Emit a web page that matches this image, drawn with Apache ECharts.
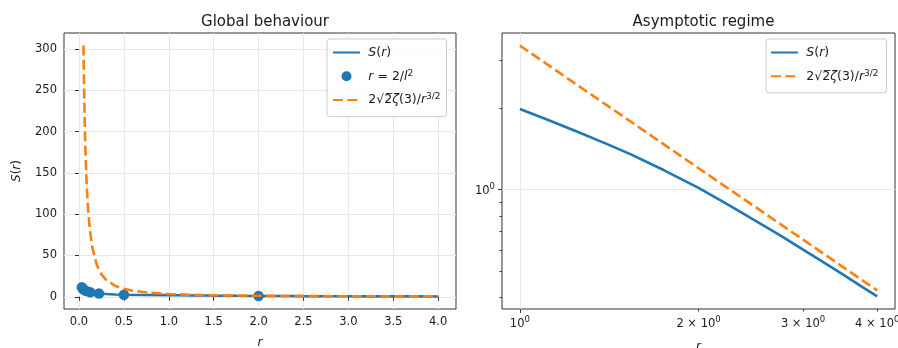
<!DOCTYPE html>
<html>
<head>
<meta charset="utf-8">
<script src="https://cdn.jsdelivr.net/npm/echarts@6/dist/echarts.min.js"></script>
<style>
html,body{margin:0;padding:0;background:#fff;}
#c{width:898px;height:348px;}
</style>
</head>
<body>
<div id="c"></div>
<script>
// S(r) curve
const rS = [0.03125, 0.035, 0.0408, 0.05, 0.0556, 0.07, 0.08, 0.1, 0.125, 0.15, 0.2, 0.222, 0.3, 0.4, 0.5, 0.7, 1, 1.1, 1.25, 1.4, 1.535, 1.75, 2, 2.25, 2.5, 2.75, 3, 3.25, 3.5, 3.75, 4];
const S  = [11.5, 10.8, 10.0, 9.0, 8.5, 7.5, 7.0, 6.2, 5.5, 5.0, 4.24, 4.0, 3.37, 2.85, 2.5, 2.2, 1.985, 1.829, 1.635, 1.476, 1.353, 1.179, 1.016, 0.877, 0.766, 0.677, 0.601, 0.539, 0.487, 0.442, 0.404];
// special points r = 2/l^2
const rPts = [2, 0.5, 0.2222, 0.125, 0.08, 0.0556, 0.0408, 0.03125];
const SPts = [1.0, 2.5, 4.0, 5.5, 7.0, 8.5, 10.0, 11.5];
// asymptote 2*sqrt(2)*zeta(3)/r^(3/2) (read values)
const rA = [0.05, 0.055, 0.06, 0.065, 0.07, 0.08, 0.09, 0.1, 0.12, 0.15, 0.2, 0.25, 0.3, 0.4, 0.5, 0.6, 0.8, 1, 1.25, 1.5, 2, 2.5, 3, 3.5, 4];
const A  = [304.1, 263.6, 231.3, 205.2, 183.6, 150.3, 125.9, 107.5, 81.8, 58.5, 38.0, 27.2, 20.7, 13.4, 9.62, 7.32, 4.75, 3.40, 2.43, 1.85, 1.20, 0.860, 0.654, 0.519, 0.425];
// tick labels
const xTicksL = [0, 0.5, 1, 1.5, 2, 2.5, 3, 3.5, 4];
const yTicksL = [0, 50, 100, 150, 200, 250, 300];
const xMajorR = [1], xMajorRLabels = ['{n|10}{sup|0}'];
const xMinorR = [2, 3, 4], xMinorRLabels = ['{n|2 × 10}{sup|0}', '{n|3 × 10}{sup|0}', '{n|4 × 10}{sup|0}'];
const yMajorR = [1], yMajorRLabels = ['{n|10}{sup|0}'];
const yMinorR = [0.4, 0.5, 0.6, 0.7, 0.8, 0.9, 2, 3];

const BLUE = '#1f77b4', ORANGE = '#ff7f0e';
const FONT = 'DejaVu Sans';
const TXT = '#1a1a1a';
const GRIDC = '#e8e8e8';

const zip = (a, b) => a.map((v, i) => [v, b[i]]);
const ge1 = (xs, ys) => zip(xs, ys).filter(p => p[0] >= 1);

const richLegend = {
  n: {fontFamily: FONT, fontSize: 12.5, color: TXT, lineHeight: 15},
  i: {fontFamily: FONT, fontSize: 12.5, fontStyle: 'italic', color: TXT, lineHeight: 15},
  sup: {fontFamily: FONT, fontSize: 9, color: TXT, verticalAlign: 'top', lineHeight: 15}
};
const richTick = {
  n: {fontFamily: FONT, fontSize: 11.5, color: TXT, lineHeight: 15, verticalAlign: 'bottom'},
  sup: {fontFamily: FONT, fontSize: 8.5, color: TXT, lineHeight: 15, verticalAlign: 'top'}
};
const legendFmt = name => {
  if (name === 'S') return ' {i|S}{n|(}{i|r}{n|)}';
  if (name === 'pts') return ' {i|r}{n| = 2/}{i|l}{sup|2}';
  return ' {n|2√2̅}{i|ζ}{n|(3)/}{i|r}{sup|3/2}';
};

const axisCommonLabel = {fontFamily: FONT, fontSize: 11.5, color: TXT};
const noSym = {opacity: 0};

const option = {
  animation: false,
  backgroundColor: '#fff',
  title: [
    {text: 'Global behaviour', left: 260, top: 10, textAlign: 'center',
     textStyle: {fontFamily: FONT, fontSize: 15, fontWeight: 'normal', color: TXT}},
    {text: 'Asymptotic regime', left: 698.5, top: 10, textAlign: 'center',
     textStyle: {fontFamily: FONT, fontSize: 15, fontWeight: 'normal', color: TXT}}
  ],
  grid: [
    {left: 64, top: 33, width: 392, height: 276, show: true, borderColor: '#333', borderWidth: 1,
     backgroundColor: 'transparent', containLabel: false, outerBoundsMode: 'none'},
    {left: 502, top: 33, width: 393, height: 276, show: true, borderColor: '#333', borderWidth: 1,
     backgroundColor: 'transparent', containLabel: false, outerBoundsMode: 'none'}
  ],
  legend: [
    {data: [{name: 'S', itemStyle: noSym}, 'pts', {name: 'asym', itemStyle: noSym}],
     orient: 'vertical', left: 327, top: 39,
     itemWidth: 27, itemHeight: 10, itemGap: 9.8, padding: [7, 6, 10, 5],
     borderColor: '#cccccc', borderWidth: 1, borderRadius: 3, backgroundColor: 'rgba(255,255,255,0.8)',
     formatter: legendFmt, textStyle: {rich: richLegend}},
    {data: [{name: 'S', itemStyle: noSym}, {name: 'asym', itemStyle: noSym}],
     orient: 'vertical', left: 766, top: 39,
     itemWidth: 27, itemHeight: 10, itemGap: 9.8, padding: [7, 8, 10, 4],
     borderColor: '#cccccc', borderWidth: 1, borderRadius: 3, backgroundColor: 'rgba(255,255,255,0.8)',
     formatter: legendFmt, textStyle: {rich: richLegend}}
  ],
  xAxis: [
    {type: 'value', gridIndex: 0, min: -0.1672, max: 4.1984, position: 'bottom',
     name: 'r', nameLocation: 'middle', nameGap: 28,
     nameTextStyle: {fontFamily: FONT, fontSize: 12, fontStyle: 'italic', color: TXT},
     axisLine: {show: false},
     axisTick: {show: true, customValues: xTicksL, length: 4, lineStyle: {color: '#333', width: 1}},
     axisLabel: {customValues: xTicksL, margin: 7, formatter: v => v.toFixed(1), ...axisCommonLabel},
     splitLine: {show: true, lineStyle: {color: GRIDC, width: 1}}},
    {type: 'log', gridIndex: 1, min: 0.933, max: 4.286, logBase: 10, position: 'bottom',
     name: 'r', nameLocation: 'middle', nameGap: 32,
     nameTextStyle: {fontFamily: FONT, fontSize: 12, fontStyle: 'italic', color: TXT},
     axisLine: {show: false},
     axisTick: {show: true, customValues: xMajorR, length: 4, lineStyle: {color: '#333', width: 1}},
     axisLabel: {customValues: xMajorR, margin: 6, formatter: v => xMajorRLabels[0], rich: richTick, ...axisCommonLabel},
     splitLine: {show: true, lineStyle: {color: GRIDC, width: 1}}},
    {type: 'log', gridIndex: 1, min: 0.933, max: 4.286, logBase: 10, position: 'bottom', offset: 0,
     axisLine: {show: false},
     axisTick: {show: true, customValues: xMinorR, length: 2.5, lineStyle: {color: '#333', width: 1}},
     axisLabel: {customValues: xMinorR, margin: 6, rich: richTick,
       formatter: v => xMinorRLabels[xMinorR.indexOf(Math.round(v))] || '', ...axisCommonLabel},
     splitLine: {show: false}}
  ],
  yAxis: [
    {type: 'value', gridIndex: 0, min: -14.78, max: 319.3, position: 'left',
     name: '{i|S}{n|(}{i|r}{n|)}', nameLocation: 'middle', nameGap: 41, nameRotate: 90,
     nameTextStyle: {rich: {
       n: {fontFamily: FONT, fontSize: 12, color: TXT},
       i: {fontFamily: FONT, fontSize: 12, fontStyle: 'italic', color: TXT}}},
     axisLine: {show: false},
     axisTick: {show: true, customValues: yTicksL, length: 4, lineStyle: {color: '#333', width: 1}},
     axisLabel: {customValues: yTicksL, margin: 7, ...axisCommonLabel},
     splitLine: {show: true, lineStyle: {color: GRIDC, width: 1}}},
    {type: 'log', gridIndex: 1, min: 0.363, max: 3.783, logBase: 10, position: 'left',
     axisLine: {show: false},
     axisTick: {show: true, customValues: yMajorR, length: 4, lineStyle: {color: '#333', width: 1}},
     axisLabel: {customValues: yMajorR, margin: 7, formatter: v => yMajorRLabels[0], rich: richTick, ...axisCommonLabel},
     splitLine: {show: true, lineStyle: {color: GRIDC, width: 1}}},
    {type: 'log', gridIndex: 1, min: 0.363, max: 3.783, logBase: 10, position: 'left', offset: 0,
     axisLine: {show: false},
     axisTick: {show: true, customValues: yMinorR, length: 2.5, lineStyle: {color: '#333', width: 1}},
     axisLabel: {show: false},
     splitLine: {show: false}}
  ],
  series: [
    {name: 'S', type: 'line', xAxisIndex: 0, yAxisIndex: 0, data: zip(rS, S),
     showSymbol: false, symbol: 'none', lineStyle: {color: BLUE, width: 2.6}, itemStyle: {color: BLUE}, z: 2},
    {name: 'pts', type: 'scatter', xAxisIndex: 0, yAxisIndex: 0, data: zip(rPts, SPts),
     symbol: 'circle', symbolSize: 10.5, itemStyle: {color: BLUE, opacity: 1}, z: 3},
    {name: 'asym', type: 'line', xAxisIndex: 0, yAxisIndex: 0, data: zip(rA, A),
     showSymbol: false, symbol: 'none', lineStyle: {color: ORANGE, width: 2.6, type: [10, 4.3]}, itemStyle: {color: ORANGE}, z: 4},
    {name: 'S', type: 'line', xAxisIndex: 1, yAxisIndex: 1, data: ge1(rS, S),
     showSymbol: false, symbol: 'none', lineStyle: {color: BLUE, width: 2.6}, itemStyle: {color: BLUE}, z: 2},
    {name: 'asym', type: 'line', xAxisIndex: 1, yAxisIndex: 1, data: ge1(rA, A),
     showSymbol: false, symbol: 'none', lineStyle: {color: ORANGE, width: 2.6, type: [10, 4.3]}, itemStyle: {color: ORANGE}, z: 4}
  ]
};

const chart = echarts.init(document.getElementById('c'), null, {renderer: 'canvas'});
chart.setOption(option);
</script>
</body>
</html>
